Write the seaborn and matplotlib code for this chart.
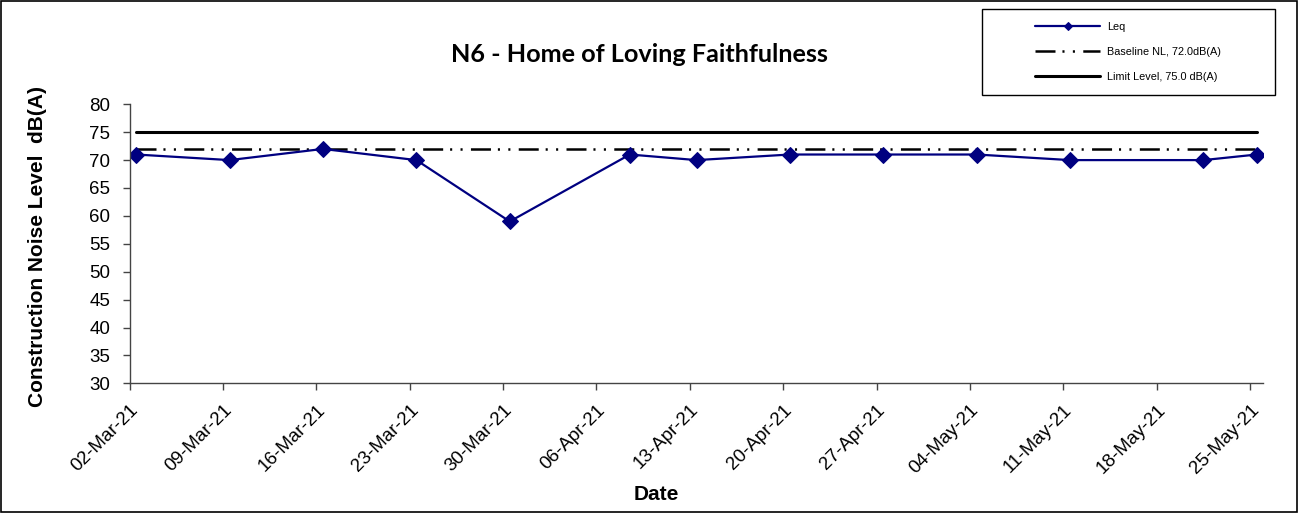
import numpy as np
import pandas as pd
import matplotlib
matplotlib.use("Agg")
import matplotlib.pyplot as plt
import matplotlib.dates as mdates
from matplotlib.patches import Rectangle
import seaborn as sns

# data
dates = ["2021-03-02", "2021-03-09", "2021-03-16", "2021-03-23", "2021-03-30",
         "2021-04-08", "2021-04-13", "2021-04-20", "2021-04-27", "2021-05-04",
         "2021-05-11", "2021-05-21", "2021-05-25"]
leq = [71, 70, 72, 70, 59, 71, 70, 71, 71, 71, 70, 70, 71]
baseline = 72.0
limit = 75.0
title = "N6 - Home of Loving Faithfulness"

sns.set_style("ticks")
plt.rcParams["font.family"] = ["Liberation Sans", "DejaVu Sans"]
plt.rcParams["lines.scale_dashes"] = False
for k in ["text.color", "axes.labelcolor", "xtick.color", "ytick.color"]:
    plt.rcParams[k] = "black"

# excel puts each point in the middle of its day
df = pd.DataFrame({"date": pd.to_datetime(dates) + pd.Timedelta(hours=12), "Leq": leq})
df["base"] = baseline
df["limit"] = limit

fig = plt.figure(figsize=(12.98, 5.13), dpi=100)
ax = fig.add_axes([0.0998, 0.2528, 0.8736, 0.5439])

sns.lineplot(data=df, x="date", y="limit", ax=ax, color="black", lw=2.2,
             label="Limit Level, 75.0 dB(A)")
sns.lineplot(data=df, x="date", y="base", ax=ax, color="black", lw=1.8,
             linestyle=(0, (14.4, 5, 1.5, 6, 1.5, 6)),
             label="Baseline NL, 72.0dB(A)")
sns.lineplot(data=df, x="date", y="Leq", ax=ax, color="#000080", lw=1.6,
             marker="D", markersize=8.5, markeredgecolor="#000080", label="Leq")

start = pd.Timestamp("2021-03-02")
ax.set_xlim(start, pd.Timestamp("2021-05-26"))
ax.set_ylim(30, 80)
ax.set_yticks(np.arange(30, 81, 5))
ax.set_xticks(pd.date_range(start, "2021-05-25", freq="7D"))
ax.xaxis.set_major_formatter(mdates.DateFormatter("%d-%b-%y"))
plt.setp(ax.get_xticklabels(), rotation=45, ha="right", rotation_mode="anchor")
ax.tick_params(axis="both", labelsize=13.5, length=5, width=1, color="#444444")
ax.tick_params(axis="x", pad=8)
ax.tick_params(axis="y", pad=9)

sns.despine(ax=ax)
for s in ["left", "bottom"]:
    ax.spines[s].set_color("#444444")
    ax.spines[s].set_linewidth(1)

ax.set_xlabel("")
ax.set_ylabel("")
fig.text(656 / 1298, 1 - 495 / 513, "Date", ha="center", va="center",
         fontsize=15, fontweight="bold")
fig.text(38 / 1298, 1 - 246.5 / 513, "Construction Noise Level  dB(A)", ha="center",
         va="center", rotation=90, fontsize=15, fontweight="bold")
fig.text(639 / 1298, 1 - 55 / 513, title, ha="center", va="center",
         fontsize=18.2, fontweight="bold", family=["Lato", "DejaVu Sans"])

# legend in its own box, top right
h, l = ax.get_legend_handles_labels()
ax.get_legend().remove()
leg = fig.legend(h[::-1], l[::-1], loc="center", bbox_to_anchor=(1128 / 1298, 1 - 52 / 513),
                 frameon=False, fontsize=7.8, handlelength=6.0, labelspacing=1.4,
                 handletextpad=0.6, markerscale=0.45)
fig.patches.append(Rectangle((981.7 / 1298, 1 - 95 / 513), 293.3 / 1298, 86 / 513,
                             transform=fig.transFigure, fill=False, ec="black", lw=1))
fig.patches.append(Rectangle((0.001, 0.001), 0.998, 0.997, transform=fig.transFigure,
                             fill=False, ec="black", lw=1.2))

fig.savefig("out.png", dpi=100)
